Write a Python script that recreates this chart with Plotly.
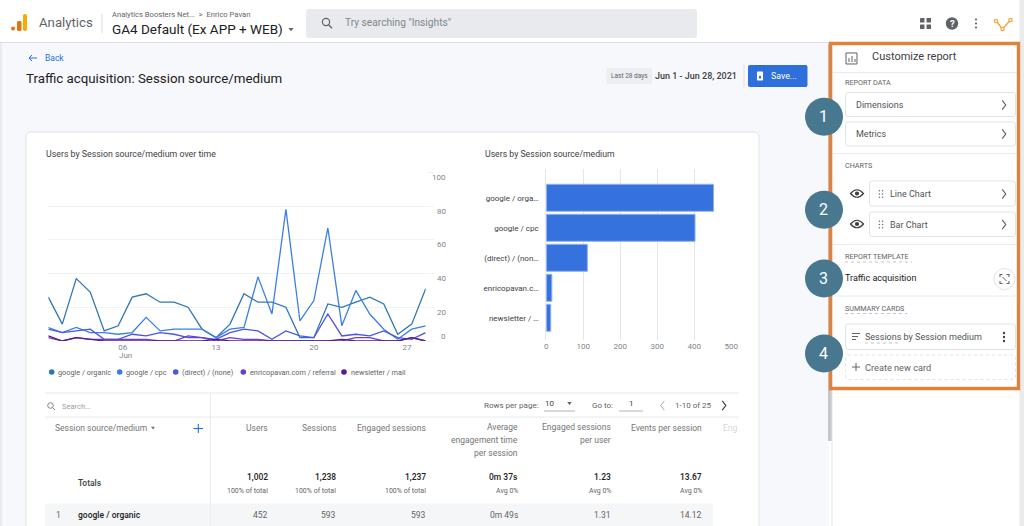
import re
import plotly.graph_objects as go

# ---------- data ----------
days = [f"2021-06-{d:02d}" for d in range(1, 29)]
series_names = ["google / organic", "google / cpc", "(direct) / (none)", "enricopavan.com / referral", "newsletter / mail"]
series_colors = ["#2f78b5", "#3b7fe6", "#4a55e8", "#6b3fc9", "#5a1a8c"]
organic = [26, 10, 37, 29, 6, 9, 26, 28, 23, 23, 20, 7, 2, 10, 28, 23, 23, 20, 2, 2, 22, 20, 23, 26, 22, 4, 10, 31]
cpc = [8, 5, 8, 5, 5, 4, 5, 14, 6, 7, 7, 7, 2, 7, 8, 38, 16, 78, 12, 24, 67, 9, 30, 16, 7, 1, 7, 9]
direct = [7, 5, 6, 7, 1, 1, 4, 3, 5, 4, 2, 2, 1, 5, 7, 6, 1, 6, 3, 2, 16, 3, 4, 3, 6, 2, 1, 5]
referral = [2, 0, 2, 1, 1, 1, 1, 1, 0, 0, 3, 2, 0, 2, 1, 1, 0, 0, 0, 0, 0, 0, 2, 2, 0, 0, 2, 0]
newsletter = [3, 0, 2, 1, 0, 0, 0, 0, 0, 0, 0, 0, 1, 0, 0, 0, 0, 0, 0, 0, 0, 1, 0, 0, 0, 0, 2, 0]
line_series = [organic, cpc, direct, referral, newsletter]
line_y_ticks = [0, 20, 40, 60, 80, 100]
line_x_tickvals = ["2021-06-06 08:00", "2021-06-13", "2021-06-20", "2021-06-26 16:00"]
line_x_ticktext = ["06", "13", "20", "27"]

bar_categories = series_names
bar_labels = ["google / orga…", "google / cpc", "(direct) / (non…", "enricopavan.c…", "newsletter / …"]
bar_values = [452, 402, 111, 15, 12]
bar_x_ticks = [0, 100, 200, 300, 400, 500]

table_rights = [268, 336, 425.5, 518, 611, 702]
table_totals = ["1,002", "1,238", "1,237", "0m 37s", "1.23", "13.67"]
table_subs = ["100% of total", "100% of total", "100% of total", "Avg 0%", "Avg 0%", "Avg 0%"]
table_row1 = ["452", "593", "593", "0m 49s", "1.31", "14.12"]

W, H = 1024, 526
FONT = "Roboto"
fx = lambda x: x / W
fy = lambda y: 1 - y / H
shapes, notes = [], []


def path_px(s):
    toks = re.findall(r"[A-Za-z]|-?\d+\.?\d*", s)
    out, isx = [], True
    for t in toks:
        if t.isalpha():
            out.append(t)
            isx = True
        else:
            out.append(f"{fx(float(t)):.6f}" if isx else f"{fy(float(t)):.6f}")
            isx = not isx
    return " ".join(out)


def P(s, line=None, lw=1, fill=None, dash=None, layer="below"):
    shapes.append(dict(type="path", xref="paper", yref="paper", path=path_px(s), layer=layer,
                       fillcolor=fill or "rgba(0,0,0,0)",
                       line=dict(color=line or "rgba(0,0,0,0)", width=lw if line else 0, dash=dash or "solid")))


def R(x0, y0, x1, y1, fill=None, line=None, lw=1, dash=None, r=0, layer="below"):
    if r:
        s = (f"M {x0+r} {y0} L {x1-r} {y0} Q {x1} {y0} {x1} {y0+r} L {x1} {y1-r} Q {x1} {y1} {x1-r} {y1} "
             f"L {x0+r} {y1} Q {x0} {y1} {x0} {y1-r} L {x0} {y0+r} Q {x0} {y0} {x0+r} {y0} Z")
    else:
        s = f"M {x0} {y0} L {x1} {y0} L {x1} {y1} L {x0} {y1} Z"
    P(s, line, lw, fill, dash, layer)


def L(x0, y0, x1, y1, color="#e4e6e9", lw=1, dash=None, layer="below"):
    P(f"M {x0} {y0} L {x1} {y1}", color, lw, None, dash, layer)


def C(cx, cy, r, fill=None, line=None, lw=1, layer="below"):
    shapes.append(dict(type="circle", xref="paper", yref="paper", x0=fx(cx - r), x1=fx(cx + r),
                       y0=fy(cy + r), y1=fy(cy - r), layer=layer, fillcolor=fill or "rgba(0,0,0,0)",
                       line=dict(color=line or "rgba(0,0,0,0)", width=lw if line else 0)))


def T(x, y, text, size=8.5, color="#5f6368", anchor="left", bold=False, family=None):
    t = f"<b>{text}</b>" if bold else text
    notes.append(dict(xref="paper", yref="paper", x=fx(x), y=fy(y), text=t, showarrow=False,
                      xanchor=anchor, yanchor="middle", borderpad=0, borderwidth=0,
                      font=dict(family=family or FONT, size=size, color=color)))


def chev(cx, cy, color="#5f6368", lw=1.2, s=3.5, left=False):
    d = -1 if left else 1
    P(f"M {cx-d*s/2} {cy-s*1.3} L {cx+d*s/2} {cy} L {cx-d*s/2} {cy+s*1.3}", color, lw)


def tri(cx, cy, color="#5f6368", s=2.5):
    P(f"M {cx-s} {cy-s*0.6} L {cx+s} {cy-s*0.6} L {cx} {cy+s*0.7} Z", None, 0, color)


def eye(cx, cy):
    P(f"M {cx-6.5} {cy} Q {cx} {cy-7.5} {cx+6.5} {cy} Q {cx} {cy+7.5} {cx-6.5} {cy} Z", "#3c4043", 1.2)
    C(cx, cy, 2.1, "#3c4043")


def grip(cx, cy):
    for dx in (-1.6, 1.6):
        for dy in (-3.2, 0, 3.2):
            C(cx + dx, cy + dy, 0.8, "#6f7377")


# ---------- page backgrounds ----------
R(0, 0, W, H, "#ffffff")
R(0, 43, 829, H, "#f7f8fb")
L(1, 43, 1, H, "#e6e7ea", 1.5)
L(0, 42.5, 830, 42.5, "#dcdee2", 1)
R(828, 44, 832, 441, "#c6c7c9")
L(832, 43, 832, H, "#e3e4e6", 1)
R(1019.5, 0, W, H, "#ebebec")
R(26, 132, 759, H + 10, "#ffffff", "#e0e2e6", 1, r=5)

# ---------- header ----------
C(13, 28.5, 2, "#e8710a")
R(17, 21, 21.5, 31, "#e8710a", r=1.5)
R(23, 14, 27, 31, "#f9ab00", r=1.8)
T(38.5, 23, "Analytics", 13.2, "#5f6368")
L(102, 14, 102, 33, "#dadce0")
T(112, 15, "Analytics Boosters Net...  &gt;  Enrico Pavan", 7.6, "#5f6368")
T(112, 28.5, "GA4 Default (Ex APP + WEB)", 13.5, "#202124")
tri(291, 29.5, "#5f6368", 2.6)
R(306, 9, 697, 38, "#e8eaed", r=3)
C(326, 22, 3.6, None, "#5f6368", 1.2)
L(328.6, 24.8, 332, 28.3, "#5f6368", 1.3)
T(345, 23, "Try searching \"Insights\"", 10.2, "#80868b")
for dx in (0, 6.5):
    for dy in (0, 6.5):
        R(920 + dx, 18 + dy, 924.5 + dx, 22.5 + dy, "#5f6368", r=0.5)
C(952, 23.5, 6.2, "#5f6368")
T(952, 23.8, "?", 9.5, "#ffffff", "center", True)
for dy in (-4, 0, 4):
    C(976, 23.5 + dy, 1.1, "#5f6368")
P("M 996 21 L 1002.5 29 L 1010.5 20", "#f4a63a", 1.4)
for cx, cy in ((996, 21), (1002.5, 29), (1010.5, 20)):
    C(cx, cy, 1.7, "#ffffff", "#f4a63a", 1.2)

# ---------- page title row ----------
L(29, 58, 37, 58, "#1a73e8", 1)
P("M 32 55 L 29 58 L 32 61", "#1a73e8", 1)
T(44.5, 58, "Back", 8.5, "#1a73e8")
T(26, 78, "Traffic acquisition: Session source/medium", 13.3, "#202124")
R(606.5, 68, 652, 84, "#eceef1", r=2)
T(629.2, 76, "Last 28 days", 6.5, "#5f6368", "center")
T(655, 76, "Jun 1 - Jun 28, 2021", 9, "#3c4043", bold=False, family="Roboto Medium, Roboto")
L(744, 65, 744, 87, "#dfe1e5")
R(748, 65, 807.5, 87, "#2f6fdc", r=2)
R(757, 71.5, 763, 80.5, "#ffffff", r=0.7)
R(759, 76, 761, 78.5, "#2f6fdc")
T(771, 76, "Save...", 8.8, "#ffffff")

# ---------- chart titles + legend ----------
T(45.5, 153.5, "Users by Session source/medium over time", 8.8, "#3c4043")
T(485, 153.5, "Users by Session source/medium", 8.7, "#3c4043")
legend_dot_x = [51.7, 119.7, 175.7, 243.3, 344]
for name, col, dx in zip(series_names, series_colors, legend_dot_x):
    C(dx, 372, 2.8, col)
    T(dx + 6.6, 372, name, 7.3, "#5f6368")

# y tick labels of the line chart, placed through the y axis scale
for v in line_y_ticks:
    notes.append(dict(xref="paper", yref="y", x=fx(447), y=v, text=str(v), showarrow=False, xanchor="right",
                      yanchor="middle", yshift=(5 if v == 0 else -5), borderpad=0,
                      font=dict(family=FONT, size=8, color="#80868b")))
T(125, 355.7, "Jun", 8, "#80868b", "center")

# ---------- table ----------
L(45, 393, 739, 393, "#e8eaed", 1)
L(45, 417, 739, 417, "#e8eaed", 1)
L(210.5, 393, 210.5, H, "#e8eaed", 1)
C(50.5, 405.5, 2.8, None, "#80868b", 1)
L(52.6, 407.6, 55, 410, "#80868b", 1)
T(61.7, 406, "Search...", 7.5, "#9aa0a6")
T(55, 428, "Session source/medium", 8.5, "#757575")
tri(153, 428, "#757575", 2)
L(193.5, 428.5, 203, 428.5, "#1a73e8", 1.1)
L(198.3, 424, 198.3, 433, "#1a73e8", 1.1)
hdr = "#757575"
T(268, 428, "Users", 8.5, hdr, "right")
T(336, 428, "Sessions", 8.5, hdr, "right")
T(425.5, 428, "Engaged sessions", 8.5, hdr, "right")
T(518, 426.7, "Average", 8.5, hdr, "right")
T(518, 439.5, "engagement time", 8.5, hdr, "right")
T(518, 452.5, "per session", 8.5, hdr, "right")
T(611, 427, "Engaged sessions", 8.5, hdr, "right")
T(611, 440, "per user", 8.5, hdr, "right")
T(702, 428, "Events per session", 8.5, hdr, "right")
T(722.5, 428, "Eng", 8.5, "#d5d7da")
T(78, 483, "Totals", 8.5, "#3c4043", family="Roboto Medium, Roboto")
R(45, 503.5, 713, H, "#f5f6f7")
L(210.5, 503.5, 210.5, H, "#eceef0", 1)
T(56, 515, "1", 8.5, "#5f6368")
T(78, 515, "google / organic", 8.5, "#202124", family="Roboto Medium, Roboto")
for rx, a, b, c in zip(table_rights, table_totals, table_subs, table_row1):
    T(rx, 477, a, 8.5, "#202124", "right", family="Roboto Medium, Roboto")
    T(rx, 490.5, b, 7, "#5f6368", "right")
    T(rx, 515, c, 8.5, "#5f6368", "right")
T(484, 405.5, "Rows per page:", 8, "#5f6368")
T(545, 403.5, "10", 8, "#3c4043")
L(544, 411, 575, 411, "#9aa0a6", 0.8)
tri(569.5, 403.5, "#5f6368", 2.3)
T(592, 405.5, "Go to:", 8, "#5f6368")
T(631, 403, "1", 8, "#3c4043", "center")
L(619, 411, 643, 411, "#9aa0a6", 0.8)
chev(662.5, 405.5, "#a8acb0", 1, 3.6, left=True)
T(675, 405.5, "1-10 of 25", 8, "#5f6368")
chev(724, 405.5, "#3c4043", 1.2, 3.6)

# ---------- right panel ----------
R(846, 53, 857, 64, None, "#5f6368", 1)
P("M 849 62 L 849 58 M 852 62 L 852 56 M 855 62 L 855 59", "#5f6368", 1)
T(872, 57, "Customize report", 11, "#3c4043")
L(832, 72.5, 1017, 72.5, "#e8eaed")
lab = "#5f6368"
body = "#4f5357"
T(845, 82, "REPORT DATA", 7.2, lab)
R(845.5, 92.5, 1015.5, 116.5, "#ffffff", "#e2e3e5", 1, r=2.5)
T(855.5, 105, "Dimensions", 9, body)
chev(1004, 105)
R(845.5, 122, 1015.5, 146, "#ffffff", "#e2e3e5", 1, r=2.5)
T(855.5, 134, "Metrics", 9, body)
chev(1004, 134)
L(832, 153.5, 1017, 153.5, "#e8eaed")
T(845, 165.5, "CHARTS", 7.2, lab)
eye(857, 193.5)
R(869.5, 181, 1015.5, 206, "#ffffff", "#e2e3e5", 1, r=2.5)
grip(881, 194)
T(889.5, 194, "Line Chart", 9, body)
chev(1004, 194)
eye(857, 224)
R(869.5, 212, 1015.5, 236.5, "#ffffff", "#e2e3e5", 1, r=2.5)
grip(881, 224.5)
T(889.5, 224.5, "Bar Chart", 9, body)
chev(1004, 224.5)
L(832, 244.5, 1017, 244.5, "#e8eaed")
T(845, 256.5, "REPORT TEMPLATE", 7.2, lab)
L(845, 262, 912, 262, "#a6a9ad", 0.7, "dot")
T(845, 278, "Traffic acquisition", 9, "#202124")
C(1004.5, 279, 10.5, "#ffffff", "#e2e3e5", 1)
P("M 1000 277 L 1000 274.5 L 1002.5 274.5 M 1006.5 274.5 L 1009 274.5 L 1009 277 "
  "M 1009 281 L 1009 283.5 L 1006.5 283.5 M 1002.5 283.5 L 1000 283.5 L 1000 281", "#5f6368", 1.1)
L(1002.5, 277, 1006.5, 281, "#5f6368", 1)
L(832, 296, 1017, 296, "#e8eaed")
T(845, 308.5, "SUMMARY CARDS", 7.2, lab)
L(845, 313.5, 907, 313.5, "#a6a9ad", 0.7, "dot")
R(845.5, 324, 1015.5, 349.5, "#ffffff", "#e2e3e5", 1, r=2.5)
P("M 852 333.5 L 860 333.5 M 852 336.5 L 858 336.5 M 852 339.5 L 856 339.5", "#5f6368", 1)
T(865, 337, "Sessions by Session medium", 9, body)
L(865, 343, 900, 343, "#a6a9ad", 0.7, "dot")
for dy in (-4, 0, 4):
    C(1004, 337 + dy, 1.2, "#3c4043")
R(845.5, 355, 1015.5, 379.5, "#ffffff", "#dcdee0", 0.8, "dot", r=2.5)
L(852, 367, 860, 367, "#5f6368", 1)
L(856, 363, 856, 371, "#5f6368", 1)
T(865, 367, "Create new card", 9.2, "#5f6368")

# orange frame + numbered badges
R(830.5, 43.5, 1018.5, 388.5, None, "#e0813f", 3.4, layer="above")
for cy, num in ((116.7, "1"), (209.7, "2"), (278.5, "3"), (353.5, "4")):
    C(824, cy, 19, "#47788f", layer="above")
    T(823.5, cy, num, 16, "#ffffff", "center")

# ---------- figure ----------
fig = go.Figure()
for name, col, vals in zip(series_names, series_colors, line_series):
    fig.add_trace(go.Scatter(x=days, y=vals, name=name, mode="lines", cliponaxis=False,
                             line=dict(color=col, width=1.3), xaxis="x", yaxis="y"))
fig.add_trace(go.Bar(x=bar_values, y=bar_categories, orientation="h", xaxis="x2", yaxis="y2",
                     marker=dict(color="#3572de", line=dict(color="#8fb3ee", width=1)), name="Users"))

fig.update_layout(
    width=W, height=H, autosize=False, margin=dict(l=0, r=0, t=0, b=0, pad=0),
    paper_bgcolor="#ffffff", plot_bgcolor="rgba(0,0,0,0)", showlegend=False, bargap=0.1,
    font=dict(family=FONT, size=8, color="#80868b"), shapes=shapes, annotations=notes,
    xaxis=dict(domain=[fx(48.3), fx(425.7)], type="date", range=[days[0], days[-1]], anchor="y", automargin=False,
               tickmode="array", tickvals=line_x_tickvals, ticktext=line_x_ticktext,
               showgrid=False, zeroline=False, showline=False, ticks="",
               tickfont=dict(family=FONT, size=8, color="#80868b")),
    yaxis=dict(domain=[fy(341), fy(172.3)], range=[0, 100], anchor="x", side="right", automargin=False,
               tickmode="array", tickvals=line_y_ticks, showticklabels=False,
               showgrid=True, gridcolor="#f1f2f4", gridwidth=1, zeroline=False, showline=False,
               ticks="outside", ticklen=7, tickcolor="#f1f2f4"),
    xaxis2=dict(domain=[fx(546.3), fx(731.3)], range=[0, 500], anchor="y2", automargin=False,
                tickmode="array", tickvals=bar_x_ticks, showgrid=True, gridcolor="#e4e6ea", gridwidth=1,
                zeroline=False, showline=False, ticks="",
                tickfont=dict(family=FONT, size=8, color="#80868b")),
    yaxis2=dict(domain=[fy(340), fy(169.3)], type="category", categoryorder="array", automargin=False,
                categoryarray=bar_categories, range=[4.74, -0.95], anchor="x2",
                tickmode="array", tickvals=bar_categories, ticktext=bar_labels,
                showgrid=False, zeroline=False, showline=True, linecolor="#e4e6ea", linewidth=1,
                ticks="outside", ticklen=5, tickcolor="rgba(0,0,0,0)",
                tickfont=dict(family=FONT, size=8, color="#3c4043")),
)

fig.write_html("out.html", config=dict(displayModeBar=False, responsive=False),
               post_script="document.body.style.margin='0';document.body.style.overflow='hidden';")
